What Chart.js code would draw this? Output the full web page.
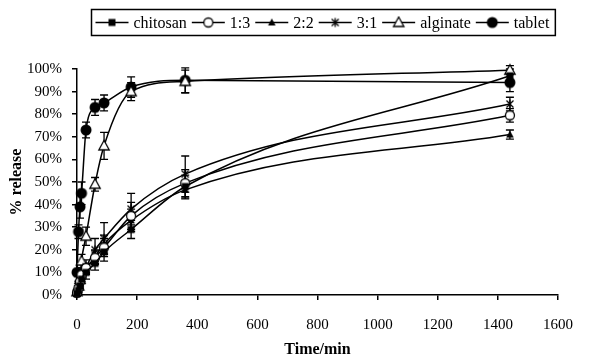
<!DOCTYPE html>
<html>
<head>
<meta charset="utf-8">
<script src="https://cdn.jsdelivr.net/npm/chart.js@4.4.1/dist/chart.umd.min.js"></script>
<style>
  html, body { margin: 0; padding: 0; background: #fff; }
  #wrap { width: 589px; height: 360px; }
</style>
</head>
<body>
<div id="wrap"><canvas id="chart" width="589" height="360"></canvas></div>
<script>
// sampling times (min)
const times = [0, 5, 10, 15, 30, 60, 90, 180, 360, 1440];

// % released
const chitosan = [0.5, 2, 4, 7, 10, 14, 19, 29, 48, 97];
const ratio13 = [1, 3, 6, 9, 12, 16.5, 21, 35, 49.5, 79.5];
const ratio22 = [0.5, 3, 5, 8, 11, 17, 22.5, 33, 46.5, 71];
const ratio31 = [1, 5, 7, 10, 12.5, 20, 25, 38, 53.5, 84.5];
const alginate = [1.5, 4, 7, 15, 26, 49, 66, 90, 94.5, 99.5];
const tablet = [10, 28, 39, 45, 73, 83, 85, 92, 95, 94];

// error bars (+/-)
const chitosanErr = [0.5, 1, 1, 2, 3, 3, 4, 4, 5, 3];
const ratio13Err = [0.5, 1, 1, 2, 2, 3, 4, 6, 6, 3];
const ratio22Err = [0.5, 1, 1, 2, 2, 3, 4, 5, 4, 2];
const ratio31Err = [0.5, 1, 1, 2, 3, 5, 7, 7, 8, 3];
const alginateErr = [1, 1, 2, 3, 4, 3, 6, 4, 5, 2];
const tabletErr = [1, 3, 5, 5, 3.5, 3.5, 3.5, 4.5, 5.5, 4];

const xTicks = [0, 200, 400, 600, 800, 1000, 1200, 1400, 1600];

const SERIF = "'Liberation Serif', 'Times New Roman', serif";

// small canvases used as point markers (Excel style)
function marker(kind) {
  const c = document.createElement('canvas');
  c.width = 14; c.height = 14;
  const g = c.getContext('2d');
  g.translate(7, 7);
  g.strokeStyle = '#000';
  g.fillStyle = '#000';
  g.lineWidth = 1.3;
  g.beginPath();
  if (kind === 'square') {
    g.fillRect(-3.5, -3.5, 7, 7);
  } else if (kind === 'circle') {
    g.arc(0, 0, 4.5, 0, 2 * Math.PI);
    g.fillStyle = '#fff'; g.fill(); g.stroke();
  } else if (kind === 'smalltri') {
    g.moveTo(0, -4); g.lineTo(3.8, 3); g.lineTo(-3.8, 3); g.closePath(); g.fill();
  } else if (kind === 'star') {
    g.moveTo(-3.5, -3.5); g.lineTo(3.5, 3.5);
    g.moveTo(3.5, -3.5); g.lineTo(-3.5, 3.5);
    g.moveTo(0, -4.5); g.lineTo(0, 4.5);
    g.stroke();
  } else if (kind === 'tri') {
    g.moveTo(0, -5.5); g.lineTo(5.2, 4); g.lineTo(-5.2, 4); g.closePath();
    g.fillStyle = '#fff'; g.fill(); g.stroke();
  } else if (kind === 'dot') {
    g.arc(0, 0, 5.5, 0, 2 * Math.PI); g.fill();
  }
  return c;
}

function series(label, values, errors, kind) {
  return {
    label: label,
    data: times.map((t, i) => ({ x: t, y: values[i] })),
    errors: errors,
    borderColor: '#000',
    backgroundColor: '#000',
    borderWidth: 1.5,
    pointStyle: marker(kind),
    cubicInterpolationMode: 'monotone',
    clip: false
  };
}

const datasets = [
  series('chitosan', chitosan, chitosanErr, 'square'),
  series('1:3', ratio13, ratio13Err, 'circle'),
  series('2:2', ratio22, ratio22Err, 'smalltri'),
  series('3:1', ratio31, ratio31Err, 'star'),
  series('alginate', alginate, alginateErr, 'tri'),
  series('tablet', tablet, tabletErr, 'dot')
];

// vertical error bars with caps, drawn under the markers
const errorBars = {
  id: 'errorBars',
  beforeDatasetsDraw(chart) {
    const { ctx, scales: { x, y } } = chart;
    ctx.save();
    ctx.strokeStyle = '#000';
    ctx.lineWidth = 1.3;
    chart.data.datasets.forEach(ds => {
      ds.data.forEach((p, i) => {
        const e = ds.errors[i];
        const px = x.getPixelForValue(p.x);
        const top = y.getPixelForValue(p.y + e);
        const bot = y.getPixelForValue(p.y - e);
        ctx.beginPath();
        ctx.moveTo(px, top); ctx.lineTo(px, bot);
        ctx.moveTo(px - 4, top); ctx.lineTo(px + 4, top);
        ctx.moveTo(px - 4, bot); ctx.lineTo(px + 4, bot);
        ctx.stroke();
      });
    });
    ctx.restore();
  }
};

// boxed legend with line + marker samples
const boxLegend = {
  id: 'boxLegend',
  afterDraw(chart) {
    const ctx = chart.ctx;
    const top = 9.5, h = 26, left = 91.5;
    ctx.save();
    ctx.font = '16px ' + SERIF;
    ctx.textBaseline = 'middle';
    ctx.fillStyle = '#000';
    ctx.strokeStyle = '#000';
    const cy = top + h / 2;
    let xPos = left + 4;
    chart.data.datasets.forEach((ds, i) => {
      ctx.lineWidth = 1.5;
      ctx.beginPath();
      ctx.moveTo(xPos, cy); ctx.lineTo(xPos + 33, cy);
      ctx.stroke();
      const img = ds.pointStyle;
      ctx.drawImage(img, xPos + 16.5 - img.width / 2, cy - img.height / 2);
      xPos += 38;
      ctx.fillText(ds.label, xPos, cy + 1);
      xPos += ctx.measureText(ds.label).width + 5;
    });
    ctx.lineWidth = 1.5;
    ctx.strokeRect(left, top, xPos - left + 1, h);
    ctx.restore();
  }
};

new Chart(document.getElementById('chart'), {
  type: 'line',
  data: { datasets: datasets },
  options: {
    responsive: false,
    animation: false,
    layout: { padding: { top: 69, right: 17, left: 0, bottom: 0 } },
    plugins: { legend: { display: false }, tooltip: { enabled: false } },
    scales: {
      x: {
        type: 'linear',
        min: 0,
        max: 1600,
        afterBuildTicks: s => { s.ticks = xTicks.map(v => ({ value: v })); },
        afterFit: s => { s.height = 65; },
        ticks: {
          color: '#000', font: { family: SERIF, size: 15 }, padding: 16, maxRotation: 0,
          callback: v => String(v)
        },
        grid: { drawOnChartArea: false, drawTicks: true, tickLength: 5, color: '#000', lineWidth: 1.5 },
        border: { color: '#000', width: 1.5 },
        title: {
          display: true, text: 'Time/min', color: '#000',
          font: { family: SERIF, size: 16, weight: 'bold' },
          padding: { top: 0, bottom: 1 }
        }
      },
      y: {
        min: 0,
        max: 100,
        afterFit: s => { s.width = 77; },
        ticks: {
          stepSize: 10, color: '#000', padding: 10,
          font: { family: SERIF, size: 15 },
          callback: v => v + '%'
        },
        grid: { drawOnChartArea: false, drawTicks: true, tickLength: 5, color: '#000', lineWidth: 1.5 },
        border: { color: '#000', width: 1.5 },
        title: {
          display: true, text: '% release', color: '#000',
          font: { family: SERIF, size: 16, weight: 'bold' },
          padding: { top: 7, bottom: 0 }
        }
      }
    }
  },
  plugins: [errorBars, boxLegend]
});
</script>
</body>
</html>
